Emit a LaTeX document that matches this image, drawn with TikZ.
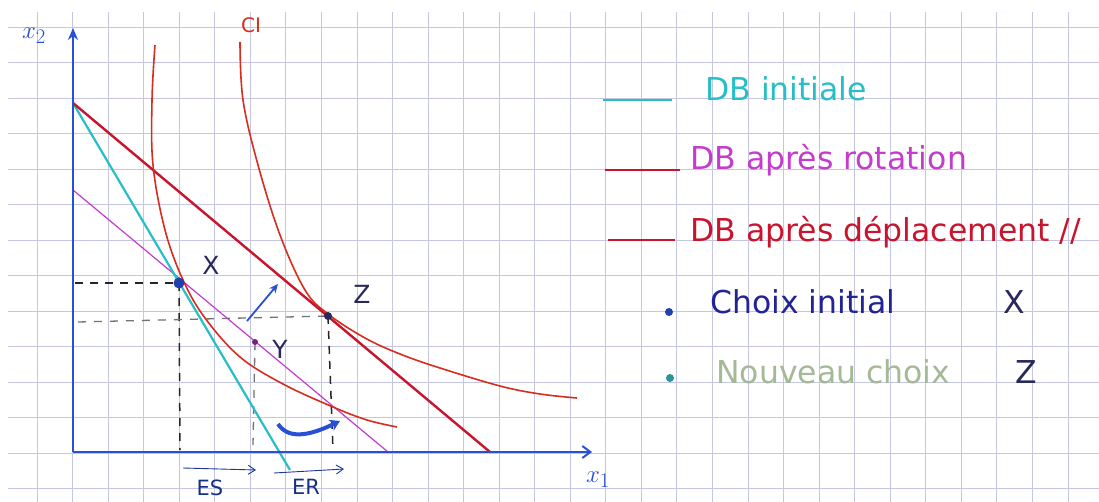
\documentclass[tikz,border=0pt]{standalone}
\usepackage{fontspec}
\setmainfont{DejaVu Sans}
\usetikzlibrary{arrows.meta}
\definecolor{gridc}{RGB}{196,198,228}
\definecolor{axisblue}{RGB}{40,80,215}
\definecolor{cyanc}{RGB}{40,190,200}
\definecolor{dbred}{RGB}{200,20,45}
\definecolor{magc}{RGB}{195,60,205}
\definecolor{cired}{RGB}{215,45,30}
\definecolor{inkblue}{RGB}{35,35,150}
\definecolor{inkdark}{RGB}{40,40,90}
\definecolor{greyink}{RGB}{165,185,150}
\definecolor{tealdot}{RGB}{40,150,150}
\tikzset{
  gridline/.style={gridc, line width=0.9pt},
  axisline/.style={axisblue, line width=2pt},
  dbinit/.style={cyanc, line width=2.2pt},
  dbdep/.style={dbred, line width=2.4pt},
  dbrot/.style={magc, line width=1.2pt},
  ciline/.style={cired, line width=1.6pt},
  dashX/.style={black!85, line width=1.5pt, dash pattern=on 8pt off 7pt},
  dashZ/.style={black!55, line width=1.3pt, dash pattern=on 8pt off 8pt},
  bluearrow/.style={axisblue, line width=2pt, -{Stealth[length=9pt,width=8pt]}},
  thinarrow/.style={axisblue!70!black, line width=0.9pt, -{Straight Barb[length=7pt,width=9pt]}},
  hand/.style={font=\fontsize{31.5}{34}\selectfont, inner sep=0pt, anchor=base west},
  lab/.style={font=\fontsize{25}{27}\selectfont, inner sep=0pt, text=inkdark},
  dot/.style={circle, fill, inner sep=0pt, minimum size=#1},
}
\begin{document}
\begin{tikzpicture}[x=1pt,y=-1pt]
\useasboundingbox (0,0) rectangle (1099,502);
\fill[white] (0,0) rectangle (1099,502);
% grid
\foreach \i in {0,...,29} \draw[gridline] ({37+35.55*\i},12) -- ({37+35.55*\i},502);
\foreach \k in {0,...,13} \draw[gridline] (8,{27+35.5*\k}) -- (1099,{27+35.5*\k});

% key points
\coordinate (O) at (73,452);
\coordinate (Ytop) at (73,28);
\coordinate (Xend) at (592,452);
\coordinate (A) at (73,103);
\coordinate (B) at (290,470);
\coordinate (C) at (490,452);
\coordinate (R1) at (73,190);
\coordinate (R2) at (388,452);
\coordinate (Xp) at (179,283);
\coordinate (Yp) at (255,342);
\coordinate (Zp) at (328,316);

% dashed guides
\coordinate (Xh) at (75,283);
\coordinate (Xv) at (180,450);
\coordinate (Zh) at (78,322);
\coordinate (Zv) at (333,450);
\coordinate (Yv) at (253,445);
\draw[dashX] (Xh) -- (Xp);
\draw[dashX] (Xp) -- (Xv);
\draw[dashZ] (Zh) -- (Zp);
\draw[dashX] (Zp) -- (Zv);
\draw[dashZ] (Yp) -- (Yv);

% budget lines
\draw[dbrot] (R1) -- (R2);
\draw[dbinit] (A) -- (B);
\draw[dbdep] (A) -- (C);

% indifference curves
\draw[ciline] plot[smooth, tension=0.6] coordinates {(155,45) (152,100) (153,165) (165,230) (183,280) (205,318) (240,357) (283,384) (333,407) (367,420) (397,427)};
\draw[ciline] plot[smooth, tension=0.6] coordinates {(240,42) (243,100) (258,165) (280,235) (305,290) (328,314) (365,338) (400,354) (440,368) (500,386) (540,394) (577,398)};

% axes
\draw[axisline, -{Stealth[length=12pt,width=10pt]}] (O) -- (Ytop);
\draw[axisline, -{Straight Barb[length=8pt,width=12pt]}] (O) -- (Xend);

% points
\node[dot=11pt, axisblue!80!black] (X) at (Xp) {};
\node[dot=6pt, magc!60!black] (Y) at (Yp) {};
\node[dot=8pt, inkdark] (Z) at (Zp) {};

% movement arrows
\coordinate (m1) at (247,321);
\coordinate (m2) at (278,284);
\draw[bluearrow, line width=1.8pt] (m1) -- (m2);
\coordinate (c1) at (278,424);
\coordinate (c2) at (340,421);
\draw[bluearrow, line width=4pt, -{Stealth[length=10pt,width=12pt]}] (c1) .. controls (290,442) and (315,433) .. (c2);

% ES / ER
\coordinate (es1) at (183,468);
\coordinate (es2) at (256,470);
\coordinate (er1) at (274,473);
\coordinate (er2) at (344,469);
\draw[thinarrow] (es1) -- (es2);
\draw[thinarrow] (er1) -- (er2);
\node[lab, text=axisblue!60!black, font=\fontsize{21}{23}\selectfont] (ES) at (210,488) {ES};
\node[lab, text=axisblue!60!black, font=\fontsize{21}{23}\selectfont] (ER) at (306,487) {ER};

% labels
\node[lab, text=axisblue, font=\fontsize{30}{32}\selectfont] (x2) at (34,36) {$x_2$};
\node[lab, text=axisblue, font=\fontsize{30}{32}\selectfont] (x1) at (598,480) {$x_1$};
\node[lab, text=cired, font=\fontsize{20}{22}\selectfont] (CI) at (251,25) {CI};
\node[lab] (Xl) at (211,265) {X};
\node[lab] (Yl) at (280,349) {Y};
\node[lab] (Zl) at (362,294) {Z};

% legend
\coordinate (l1a) at (603,100); \coordinate (l1b) at (672,100);
\coordinate (l2a) at (605,170); \coordinate (l2b) at (680,170);
\coordinate (l3a) at (608,240); \coordinate (l3b) at (675,240);
\draw[cyanc, line width=1.8pt] (l1a) -- (l1b);
\draw[dbred, line width=1.8pt] (l2a) -- (l2b);
\draw[dbred, line width=2pt] (l3a) -- (l3b);
\node[hand, text=cyanc] (t1) at (705,101) {DB initiale};
\node[hand, text=magc] (t2) at (690,170) {DB après rotation};
\node[hand, text=dbred] (t3) at (690,242) {DB après déplacement //};
\node[dot=8pt, axisblue!80!black] (d1) at (669,312) {};
\node[dot=8pt, tealdot] (d2) at (670,378) {};
\node[hand, text=inkblue] (t4) at (710,313) {Choix initial};
\node[hand, text=greyink] (t5) at (716,383) {Nouveau choix};
\node[hand, text=inkdark] (t4x) at (1003,313) {X};
\node[hand, text=inkdark] (t5z) at (1015,383) {Z};
\end{tikzpicture}
\end{document}
